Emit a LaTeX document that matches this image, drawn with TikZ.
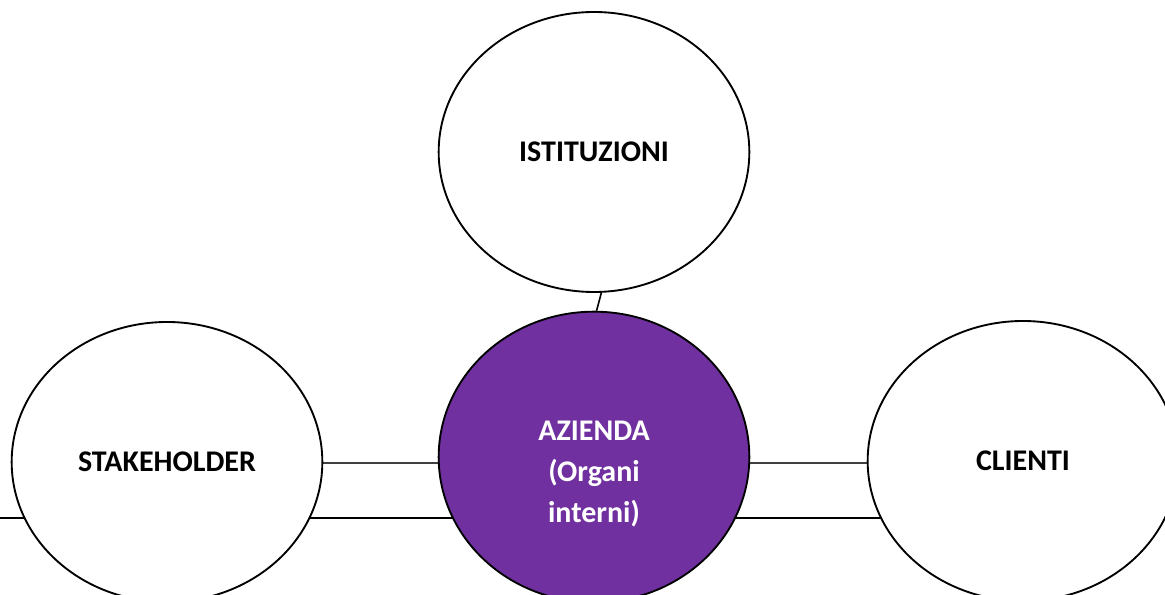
\documentclass[tikz,border=0pt]{standalone}
\usepackage{fontspec}
\setmainfont{Carlito}
\usetikzlibrary{shapes.geometric,backgrounds}
\definecolor{azviola}{HTML}{7030A0}

\tikzset{
  bolla/.style={ellipse, draw=black, line width=1.4pt, fill=white, minimum width=233pt, minimum height=210pt, inner sep=0pt},
  scritta/.style={align=center, inner sep=0pt, font=\fontsize{22.5}{30.75}\selectfont\bfseries},
  legame/.style={black, line width=1.4pt},
  sottile/.style={black!75, line width=0.9pt}
}

\begin{document}
\begin{tikzpicture}[x=0.75pt,y=-0.75pt]
		\useasboundingbox (0,0) rectangle (1165,595);
		\clip (0,0) rectangle (1165,595);
		\node[bolla] (istituzioni) at (594,152) {};
		\node[bolla] (stakeholder) at (167,462) {};
		\node[bolla] (clienti) at (1023,461) {};
		\node[bolla, fill=azviola, minimum height=218pt] (azienda) at (594,457) {};
		\node[scritta] (istituzioniT) at (istituzioni) {ISTITUZIONI};
		\node[scritta] (stakeholderT) at (stakeholder) {STAKEHOLDER};
		\node[scritta] (clientiT) at (clienti) {CLIENTI};
		\node[scritta, text=white] (aziendaT) at (594,474) {AZIENDA\\(Organi\\interni)};
		\coordinate (basso) at (0,518);
		\coordinate (alto) at (0,463);
		\begin{scope}[on background layer]
		\draw[legame] (basso) -- (clienti.center |- basso);
		\draw[sottile] (stakeholder.center |- alto) -- (clienti.center |- alto);
		\end{scope}
		\draw[black, line width=1.2pt] (istituzioni.-87) -- (azienda.89);
\end{tikzpicture}
\end{document}
